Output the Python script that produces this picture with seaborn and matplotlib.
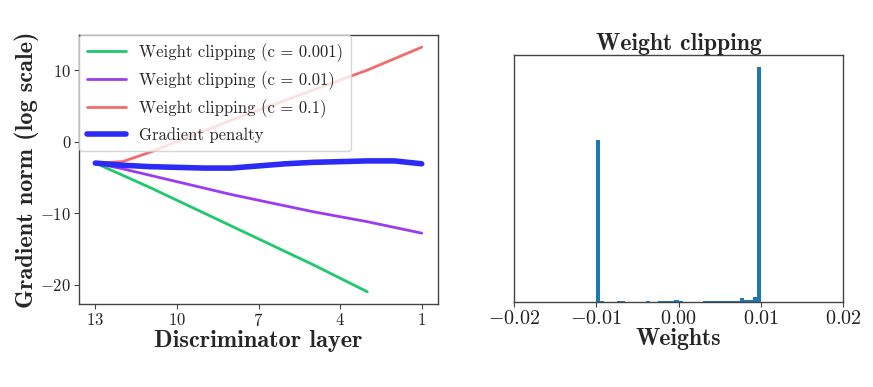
import numpy as np
import pandas as pd
import matplotlib
matplotlib.use("Agg")
import matplotlib.pyplot as plt
import seaborn as sns

# --- data ---
layers = [13, 12, 11, 10, 9, 8, 7, 6, 5, 4, 3, 2, 1]
clip_0001 = [-3.0, -4.7, -6.4, -8.2, -10.0, -11.8, -13.6, -15.4, -17.2, -19.1, -21.0]  # stops at layer 3
clip_001 = [-3.0, -3.8, -4.7, -5.6, -6.5, -7.4, -8.2, -9.0, -9.8, -10.5, -11.2, -12.0, -12.8]
clip_01 = [-3.0, -2.8, -1.5, 0.0, 1.5, 3.0, 4.4, 5.8, 7.2, 8.6, 10.0, 11.6, 13.2]
grad_pen = [-3.0, -3.3, -3.5, -3.6, -3.7, -3.7, -3.4, -3.1, -2.9, -2.8, -2.7, -2.7, -3.1]

# histogram of clipped weights: 40 bins on [-0.01, 0.01], relative counts
bin_lo, bin_hi, n_bins = -0.01, 0.01, 40
bin_counts = [69.0, 0.6, 0.2, 0.2, 0.2, 0.5, 0.5, 0.2, 0.2, 0.2,
              0.2, 0.2, 0.4, 0.2, 0.2, 0.5, 0.5, 0.3, 0.4, 0.7,
              0.3, 0.1, 0.1, 0.1, 0.1, 0.1, 0.3, 0.3, 0.3, 0.3,
              0.3, 0.3, 0.3, 0.3, 0.5, 1.6, 1.0, 0.9, 2.2, 100.0]

series = [
    ("Weight clipping (c = 0.001)", clip_0001, "#1ec86c", 2.0),
    ("Weight clipping (c = 0.01)", clip_001, "#9b3cf5", 2.0),
    ("Weight clipping (c = 0.1)", clip_01, "#f26c6c", 2.0),
    ("Gradient penalty", grad_pen, "#2b2bf5", 4.0),
]

sns.set_style("ticks")
plt.rcParams["font.family"] = ["cmr10", "DejaVu Serif"]
plt.rcParams["mathtext.fontset"] = "cm"
plt.rcParams["axes.formatter.use_mathtext"] = True
plt.rcParams["axes.edgecolor"] = "#444444"
plt.rcParams["axes.linewidth"] = 1.0
plt.rcParams["xtick.color"] = "#444444"
plt.rcParams["ytick.color"] = "#444444"
plt.rcParams["xtick.labelcolor"] = "#222222"
plt.rcParams["ytick.labelcolor"] = "#222222"

W, H = 873, 387
fig = plt.figure(figsize=(W / 100, H / 100), dpi=100)
ax1 = fig.add_axes([79 / W, 1 - 304 / H, (438 - 79) / W, (304 - 35) / H])
ax2 = fig.add_axes([514 / W, 1 - 302 / H, (843 - 514) / W, (302 - 55) / H])

# left: gradient norms per layer
for label, vals, col, lw in series:
    df = pd.DataFrame({"layer": layers[:len(vals)], "norm": vals})
    sns.lineplot(data=df, x="layer", y="norm", ax=ax1, color=col,
                 linewidth=lw, label=label)
ax1.invert_xaxis()
ax1.set_xticks([13, 10, 7, 4, 1])
ax1.set_yticks([-20, -10, 0, 10])
ax1.tick_params(labelsize=12, length=3.5, pad=2)
ax1.set_xlabel("Discriminator layer", fontfamily="cmb10", fontsize=17.5, labelpad=1)
ax1.set_ylabel("Gradient norm (log scale)", fontfamily="cmb10", fontsize=17.5, labelpad=1)
leg = ax1.legend(loc="upper left", fontsize=12, borderaxespad=0,
                 handlelength=2.3, labelspacing=0.55, borderpad=0.5)
for spine in ax1.spines.values():
    spine.set_visible(True)

# right: weight histogram
width = (bin_hi - bin_lo) / n_bins
hist_df = pd.DataFrame({
    "weight": [bin_lo + width * (i + 0.5) for i in range(n_bins)],
    "count": bin_counts,
})
sns.histplot(data=hist_df, x="weight", weights="count", bins=n_bins,
             binrange=(bin_lo, bin_hi), ax=ax2,
             color="#1f77b4", alpha=1.0, linewidth=0, element="bars")
ax2.set_xlim(-0.02, 0.02)
ax2.set_xticks([-0.02, -0.01, 0.0, 0.01, 0.02])
ax2.set_xticklabels([r"$-0.02$", r"$-0.01$", r"$0.00$", r"$0.01$", r"$0.02$"])
ax2.set_yticks([])
ax2.set_ylabel("")
ax2.tick_params(labelsize=14.5, length=3.5, pad=2)
ax2.set_xlabel("Weights", fontfamily="cmb10", fontsize=17, labelpad=0)
ax2.set_title("Weight clipping", fontfamily="cmb10", fontsize=17, pad=3)
for spine in ax2.spines.values():
    spine.set_visible(True)

fig.savefig("out.png", dpi=100)
